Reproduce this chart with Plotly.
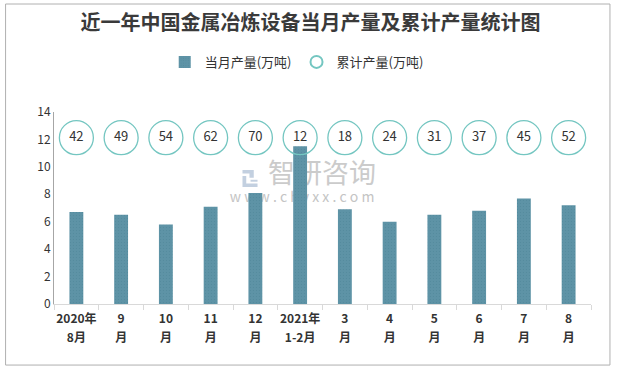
import plotly.graph_objects as go

label_top = ["2020年", "9", "10", "11", "12", "2021年", "3", "4", "5", "6", "7", "8"]
label_bottom = ["8月", "月", "月", "月", "月", "1-2月", "月", "月", "月", "月", "月", "月"]
monthly = [6.7, 6.5, 5.8, 7.1, 8.1, 11.5, 6.9, 6.0, 6.5, 6.8, 7.7, 7.2]
cumulative = [42, 49, 54, 62, 70, 12, 18, 24, 31, 37, 45, 52]
bubble_y = [12.13] * len(label_top)
y_ticks = [0, 2, 4, 6, 8, 10, 12, 14]

FONT = "Noto Sans CJK SC"
BAR_COLOR = "#5e93a6"
TEAL = "#74c6c1"
positions = list(range(len(label_top)))
x_range = [-0.5, len(label_top) - 0.5]

fig = go.Figure()
fig.add_trace(go.Scatter(
    x=label_top, y=bubble_y, mode="markers", name="累计产量(万吨)",
    marker=dict(size=34, color="rgba(255,255,255,0)", line=dict(color=TEAL, width=1.3)),
))
fig.add_trace(go.Bar(
    x=label_top, y=monthly, name="当月产量(万吨)", width=0.31,
    marker=dict(color=BAR_COLOR, line=dict(width=0),
                pattern=dict(shape=".", fgcolor="#4c8396", bgcolor=BAR_COLOR, size=3, solidity=0.15)),
))
fig.add_trace(go.Scatter(
    x=positions, y=bubble_y, xaxis="x2", mode="text", text=[str(v) for v in cumulative],
    textfont=dict(size=13, color="#333333", family=FONT), showlegend=False,
))

# outer frame
fig.add_shape(type="rect", xref="paper", yref="paper", x0=-0.0902, x1=1.0353, y0=-0.318, y1=1.5625,
              line=dict(color="#b0b0b0", width=1), fillcolor="rgba(0,0,0,0)", layer="below")
# watermark
fig.add_shape(type="rect", xref="paper", yref="paper", x0=0.389, x1=0.609, y0=0.62, y1=0.714,
              line=dict(width=0), fillcolor="rgba(0,0,0,0)", layer="below",
              label=dict(text="智研咨询", font=dict(size=27, color="#cbcbcb", family=FONT),
                         textposition="middle center"))
fig.add_shape(type="rect", xref="paper", yref="paper", x0=0.262, x1=0.662, y0=0.522, y1=0.582,
              line=dict(width=0), fillcolor="rgba(0,0,0,0)", layer="below",
              label=dict(text="w w w . c h y x x . c o m", font=dict(size=14, color="#c4c4c4", family=FONT),
                         textposition="middle center"))
# logo approximation
fig.add_shape(type="path", xref="paper", yref="paper", layer="below",
              path="M 0.351 0.698 L 0.372 0.698 L 0.372 0.657 L 0.364 0.657 L 0.364 0.680 L 0.351 0.680 Z",
              fillcolor="#c3d0e0", line=dict(width=0))
fig.add_shape(type="path", xref="paper", yref="paper", layer="below",
              path="M 0.351 0.667 L 0.358 0.667 L 0.358 0.627 L 0.379 0.627 L 0.379 0.609 L 0.351 0.609 Z",
              fillcolor="#c3d0e0", line=dict(width=0))
fig.add_shape(type="path", xref="paper", yref="paper", layer="below",
              path="M 0.366 0.647 L 0.379 0.647 L 0.379 0.637 L 0.366 0.637 Z",
              fillcolor="#c3d0e0", line=dict(width=0))

fig.update_layout(
    width=621, height=371,
    margin=dict(l=54, r=30, t=112, b=67, autoexpand=False),
    paper_bgcolor="white", plot_bgcolor="white",
    font=dict(family=FONT, color="#333333"),
    title=dict(text="<b>近一年中国金属冶炼设备当月产量及累计产量统计图</b>",
               x=0.5, xref="container", y=0.938, yref="container", yanchor="middle",
               font=dict(size=20, color="#3a3a3a", family=FONT)),
    legend=dict(orientation="h", x=0.452, xanchor="center", y=0.833, yref="container", yanchor="middle",
                font=dict(size=13, color="#333333", family=FONT), itemsizing="constant",
                itemwidth=30, tracegroupgap=0, bgcolor="rgba(0,0,0,0)", traceorder="reversed"),
    bargap=0.69,
    showlegend=True,
    xaxis=dict(
        type="category", range=x_range, showline=True, linecolor="#d9d9d9", linewidth=1,
        ticks="outside", tickson="boundaries", ticklen=5, tickcolor="#d9d9d9", tickangle=0,
        automargin=False, ticklabelstandoff=4,
        tickfont=dict(size=12, color="#333333", family=FONT, weight="bold"), showgrid=False,
    ),
    xaxis2=dict(
        overlaying="x", side="bottom", anchor="y", range=x_range,
        tickmode="array", tickvals=positions, ticktext=label_bottom,
        showline=False, ticks="", showgrid=False, zeroline=False, tickangle=0,
        automargin=False, ticklabelstandoff=25,
        tickfont=dict(size=12, color="#333333", family=FONT, weight="bold"),
    ),
    yaxis=dict(
        range=[0, 14], tickvals=y_ticks, showline=True, linecolor="#a6a6a6", linewidth=1,
        ticks="", showgrid=False, zeroline=False, automargin=False,
        tickfont=dict(size=12, color="#333333", family=FONT),
    ),
)
fig.write_html("out.html", config={"displayModeBar": False},
               post_script="document.body.style.margin='0';")
